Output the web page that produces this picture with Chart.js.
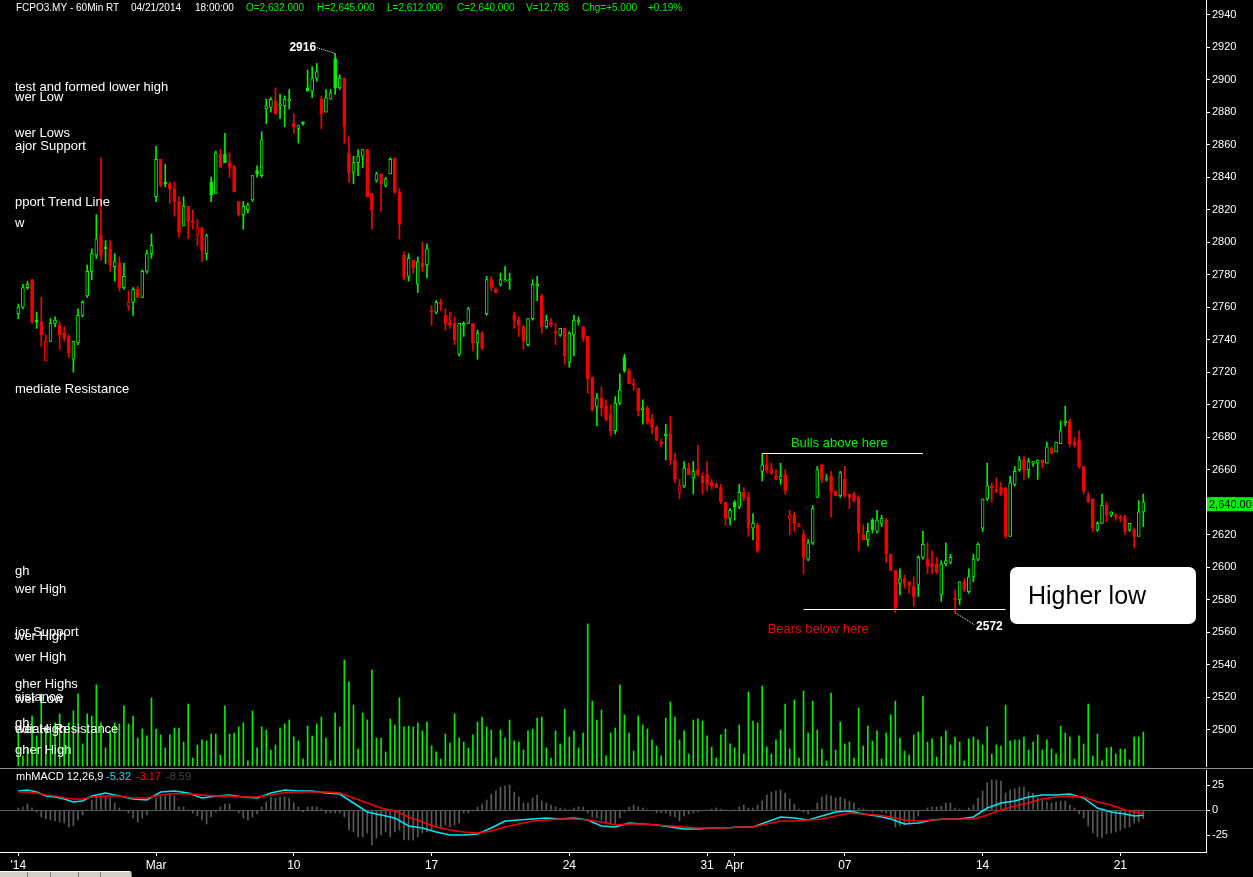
<!DOCTYPE html>
<html>
<head>
<meta charset="utf-8">
<title>FCPO3.MY - 60Min</title>
<script src="https://cdn.jsdelivr.net/npm/chart.js@4.4.1/dist/chart.umd.min.js"></script>
<style>
  html, body { margin: 0; padding: 0; background: #000; overflow: hidden; }
  #wrap { position: relative; width: 1253px; height: 877px; background: #000; }
  #priceChart { position: absolute; left: 0; top: 0; }
  #macdChart { position: absolute; left: 0; top: 770px; }
  #tabs { position: absolute; left: 0; top: 871px; width: 131px; height: 6px; background: #d4d0c8;
          border-top: 1px solid #fff; border-right: 1px solid #808080; border-radius: 0 3px 0 0; }
  #tabs span { position: absolute; top: 0; width: 1px; height: 6px; background: #808080; }
</style>
</head>
<body>
<div id="wrap">
  <canvas id="priceChart" width="1253" height="770"></canvas>
  <canvas id="macdChart" width="1253" height="107"></canvas>
  <div id="tabs"><span style="left:27px"></span><span style="left:50px"></span><span style="left:78px"></span><span style="left:100px"></span></div>
</div>
<script>
// hourly candles, 24 Feb - 21 Apr 2014
const opens = [
  2756,2760,2772,2777,2752,2751,2727,2739,2750,2749, 2744,2742,2728,2738,2755,2767,2782,2792,2804,2797,
  2796,2785,2787,2772,2761,2763,2771,2766,2782,2793, 2828,2851,2837,2836,2833,2825,2810,2822,2813,2805,
  2809,2793,2837,2830,2854,2854,2849,2847,2825,2817, 2820,2826,2844,2841,2882,2883,2887,2884,2884,2887,
  2873,2870,2874,2895,2893,2901,2888,2880,2888,2913, 2895,2901,2855,2843,2849,2853,2857,2830,2838,2842,
  2835,2842,2851,2831,2792,2779,2789,2774,2787,2786, 2758,2757,2763,2755,2751,2750,2731,2749,2750,2750,
  2738,2744,2756,2777,2771,2774,2776,2776,2755,2752, 2748,2737,2753,2773,2767,2748,2751,2745,2743,2747,
  2726,2743,2751,2748,2742,2717,2699,2704,2699,2694, 2684,2701,2729,2721,2713,2710,2697,2698,2691,2686,
  2677,2681,2682,2666,2646,2650,2661,2655,2660,2656, 2657,2652,2651,2649,2640,2630,2640,2637,2646,2643,
  2624,2626,2659,2663,2660,2656,2654,2657,2630,2632, 2625,2620,2605,2615,2643,2663,2654,2656,2647,2644,
  2654,2645,2645,2643,2620,2617,2629,2622,2627,2629, 2608,2598,2590,2593,2591,2588,2589,2606,2605,2602,
  2602,2583,2602,2603,2581,2580,2591,2585,2594,2605, 2624,2642,2650,2648,2649,2649,2619,2651,2660,2666,
  2660,2664,2664,2666,2664,2673,2671,2676,2689,2690, 2677,2678,2662,2644,2642,2623,2627,2638,2632,2632,
  2631,2631,2623,2623,2619,2634
];
const highs = [
  2762,2774,2776,2777,2757,2766,2743,2753,2754,2751, 2748,2743,2739,2759,2764,2786,2796,2817,2852,2801,
  2801,2793,2791,2787,2770,2772,2773,2783,2795,2805, 2859,2851,2848,2837,2837,2828,2828,2822,2820,2814,
  2809,2805,2840,2856,2857,2867,2855,2847,2825,2825, 2824,2841,2847,2868,2888,2889,2895,2891,2890,2894,
  2879,2872,2874,2906,2908,2910,2890,2894,2894,2916, 2903,2901,2865,2853,2857,2857,2857,2830,2843,2842,
  2840,2852,2852,2833,2794,2793,2789,2791,2800,2799, 2761,2764,2765,2759,2757,2754,2750,2751,2760,2750,
  2746,2745,2779,2779,2772,2781,2785,2781,2757,2754, 2749,2753,2777,2779,2768,2755,2753,2750,2747,2747,
  2745,2755,2754,2748,2742,2717,2707,2711,2703,2700, 2705,2719,2731,2722,2716,2710,2703,2699,2694,2687,
  2679,2688,2693,2670,2654,2665,2664,2665,2675,2658, 2665,2654,2652,2651,2640,2636,2641,2651,2649,2646,
  2633,2627,2670,2669,2664,2660,2664,2660,2635,2634, 2627,2623,2617,2638,2662,2663,2657,2659,2647,2659,
  2662,2645,2646,2644,2626,2627,2630,2635,2632,2630, 2608,2598,2599,2595,2591,2594,2607,2622,2615,2610,
  2606,2604,2615,2608,2586,2591,2593,2599,2608,2615, 2642,2664,2652,2655,2652,2649,2656,2662,2668,2668,
  2667,2665,2666,2666,2677,2674,2677,2690,2699,2691, 2680,2684,2662,2646,2642,2628,2645,2640,2634,2633,
  2632,2632,2627,2624,2641,2645
];
const lows = [
  2753,2759,2771,2750,2747,2736,2727,2739,2748,2734, 2739,2729,2720,2737,2754,2766,2777,2790,2789,2787,
  2782,2776,2770,2771,2758,2755,2766,2766,2781,2790, 2825,2834,2834,2824,2816,2803,2810,2802,2808,2798,
  2788,2789,2825,2830,2846,2849,2840,2831,2816,2808, 2818,2825,2840,2840,2873,2880,2879,2876,2871,2882,
  2867,2861,2872,2893,2889,2899,2870,2880,2888,2891, 2894,2861,2837,2836,2841,2846,2828,2808,2837,2819,
  2834,2842,2830,2802,2777,2776,2781,2769,2782,2778, 2749,2756,2758,2746,2747,2737,2730,2742,2750,2733,
  2728,2734,2755,2770,2769,2773,2776,2771,2747,2742, 2734,2736,2752,2764,2744,2747,2748,2737,2742,2725,
  2723,2730,2749,2739,2707,2696,2687,2693,2690,2681, 2682,2700,2720,2713,2709,2693,2688,2688,2682,2678,
  2674,2666,2663,2652,2642,2649,2657,2645,2656,2645, 2647,2648,2649,2639,2626,2626,2629,2636,2641,2619,
  2617,2609,2653,2658,2657,2654,2651,2645,2620,2622, 2625,2596,2604,2614,2643,2652,2653,2631,2644,2643,
  2643,2636,2640,2610,2617,2613,2621,2621,2625,2603, 2598,2572,2583,2587,2584,2576,2582,2605,2596,2596,
  2596,2579,2601,2602,2572,2577,2585,2584,2591,2604, 2622,2641,2640,2646,2644,2618,2619,2650,2659,2654,
  2655,2662,2654,2661,2664,2670,2671,2676,2687,2674, 2674,2661,2645,2640,2622,2622,2627,2628,2631,2629,
  2628,2620,2622,2612,2619,2625
];
const closes = [
  2760,2772,2774,2751,2751,2743,2739,2750,2752,2743, 2741,2732,2739,2755,2763,2782,2793,2802,2792,2796,
  2786,2788,2772,2779,2763,2771,2766,2782,2793,2798, 2851,2835,2836,2833,2825,2806,2822,2813,2812,2809,
  2795,2804,2829,2855,2846,2849,2846,2831,2817,2822, 2823,2841,2842,2863,2884,2888,2879,2885,2888,2888,
  2871,2872,2873,2893,2901,2905,2879,2889,2892,2895, 2901,2871,2843,2849,2853,2857,2828,2820,2842,2836,
  2839,2851,2831,2811,2778,2790,2784,2788,2785,2796, 2757,2763,2762,2750,2749,2740,2750,2750,2759,2738,
  2744,2735,2777,2772,2769,2777,2777,2777,2752,2749, 2739,2753,2774,2774,2748,2752,2749,2744,2747,2730,
  2744,2752,2752,2741,2716,2697,2704,2698,2691,2684, 2701,2709,2721,2713,2712,2696,2698,2689,2686,2678,
  2676,2682,2666,2654,2650,2661,2657,2659,2657,2652, 2651,2650,2649,2640,2630,2635,2637,2646,2643,2624,
  2627,2610,2663,2660,2658,2654,2656,2647,2632,2627, 2626,2606,2615,2636,2660,2654,2655,2646,2644,2658,
  2644,2643,2641,2621,2617,2622,2623,2629,2630,2608, 2598,2574,2593,2590,2589,2582,2606,2614,2601,2600,
  2597,2602,2604,2606,2580,2591,2586,2594,2605,2614, 2642,2650,2649,2646,2645,2619,2652,2659,2666,2660,
  2665,2665,2666,2664,2674,2670,2677,2684,2690,2676, 2675,2662,2647,2640,2624,2627,2638,2632,2634,2631,
  2630,2622,2627,2619,2634,2640
];
// volume, thousands of lots
const volumes = [
  12.4,3.8,6.8,18.8,11.3,27.1,14.3,13.2,16.2,19.6, 14.3,16.2,20.7,27.1,8.3,19.6,18.8,30.5,16.2,6.8,
  13.2,16.2,15.8,22.6,15.8,18.8,10.5,13.9,11.3,25.6, 13.9,11.7,6.8,11.7,14.3,14.3,9.0,23.3,3.0,7.9,
  9.8,9.4,12.0,12.0,4.1,22.6,12.0,12.4,14.7,16.2, 1.9,20.7,6.8,14.7,13.5,6.0,7.9,14.3,15.8,17.3,
  10.9,9.4,2.6,15.0,11.3,15.8,18.4,10.5,1.9,19.9, 14.7,39.9,31.6,22.9,6.4,19.9,17.3,36.1,10.5,10.5,
  5.3,17.7,15.4,25.6,14.7,15.0,14.7,16.2,
  13.2,16.5,7.5,5.3,2.6,12.0,8.6,19.6,10.5,9.0, 6.8,11.7,16.5,18.4,14.7,13.5,3.0,13.5,10.5,17.3,
  9.4,9.0,6.0,13.2,13.9,18.0,18.4,6.8,3.0,13.2, 8.3,21.4,10.9,13.2,6.8,12.4,53.4,24.4,17.3,21.1,
  3.8,12.4,14.3,30.5,19.2,12.4,5.6,18.8,15.4,13.9, 9.8,7.5,3.8,18.0,24.1,18.4,9.8,13.2,4.5,17.3,
  17.7,16.9,11.3,7.1,3.0,11.7,13.9,8.3,6.8,15.4, 4.5,27.8,16.9,16.2,30.1,7.1,4.5,9.8,13.5,23.3,
  6.4,24.8,3.0,28.2,12.4,24.4,13.5,
  6.4,1.9,27.4,6.0,16.5,8.3,9.0,3.0,21.8,7.5, 15.0,9.4,13.2,2.6,12.4,19.2,24.4,10.5,5.6,4.1,
  11.7,12.8,26.3,9.0,10.2,3.4,10.9,13.2,7.9,10.9, 9.0,1.9,10.2,10.9,9.8,7.9,14.7,4.5,7.9,7.5,
  22.9,9.4,9.8,9.8,10.9,6.0,9.0,11.7,6.0,9.8, 6.4,4.5,15.0,12.4,10.9,2.6,11.3,8.3,23.3,3.8,
  12.0,1.9,6.8,7.1,4.5,6.4,6.4,2.3,10.9,10.9, 12.8
];
// mhMACD 12,26,9 histogram, one per candle
const histVals = [
  2,3,6,2,-2,-7,-9,-10,-11,-12, -13,-17,-16,-10,-5,0,10,13,15,14,
  12,7,2,0,-3,-8,-12,-8,-5,-1, 12,14,14,16,14,3,3,0,-3,-6,
  -10,-14,-7,-2,3,6,6,-1,-3,-8, -10,-7,-4,3,8,13,12,13,13,12,
  7,3,-2,3,3,3,1,-3,-3,-3, -3,-7,-20,-22,-27,-27,-23,-35,-28,-25,
  -22,-27,-22,-20,-30,-30,-30,-27,
  -23,-22,-20,-18,-17,-15,-17,-15,-13,-3, -3,-1,3,6,10,16,19,23,24,25,
  18,13,7,7,12,15,9,7,5,3, 2,1,0,2,3,3,-3,-7,-8,-10,
  -13,-13,-14,-8,-2,3,5,3,2,0, -1,-3,-3,-3,-6,-7,-11,-6,-4,-3,
  -2,-1,0,1,2,1,0,-1,0,3, 5,2,2,5,9,15,18,19,20,17,
  11,6,1,-2,-4,0,7,
  13,15,14,12,13,11,9,7,2,1, -1,-2,-1,-2,-3,-8,-17,-16,-15,-13,
  -10,-6,0,2,3,3,4,7,7,2, 1,0,2,5,12,19,27,30,30,29,
  17,20,21,23,23,18,17,12,10,8, 7,8,9,9,5,2,-4,-8,-16,-23,
  -27,-28,-24,-23,-22,-20,-18,-17,-13,-12, -8.59
];
// MACD and signal lines, read at these candle positions
const macdIdx = [0,2,4,6,8,10,12,14,16,19,22,25,28,31,34,37,40,43,46,49,52,55,58,61,64,67,70,73,76,79,
  82,85,88,91,94,97,100,103,106,109,112,115,118,121,124,127,130,133,136,139,142,145,148,151,154,157,160,163,166,169,
  172,175,178,181,184,187,190,193,196,199,202,205,208,211,214,217,220,223,226,229,232,235,238,241,243,245];
const macdVals = [19,20,18,14,13,11,8,9,14,17,14,11,10,18,19,17,12,14,15,13,12,17,20,19,19,17,16,7,-2,-5,
  -8,-16,-18,-22,-25,-25,-24,-18,-11,-10,-9,-8,-9,-8,-10,-16,-17,-13,-14,-15,-17,-19,-19,-18,-18,-17,-17,-12,-7,-8,
  -10,-6,-2,-1,-4,-6,-9,-14,-13,-10,-9,-9,-7,2,7,9,13,15,15,16,12,2,-2,-4,-6,-5.32];
const signalVals = [18,18,17,15,14,12,11,11,13,14,14,12,12,15,16.5,16,15,14,14,13,13,15,17.5,18,18,18,17,12,7,2,
  -1,-7,-12,-17,-20,-22,-23,-21,-17,-14,-11,-10,-9,-9,-10,-12,-15,-14,-14,-15,-16,-17,-18,-18,-18,-17,-17,-14,-11,-11,
  -10,-9,-6,-3,-4,-5,-7,-10,-11,-10,-9,-9,-9,-5,0,4,7,11,13,14,13,8,5,0,-2,-3.17];

const priceTicks = [2940,2920,2900,2880,2860,2840,2820,2800,2780,2760,2740,2720,2700,2680,2660,2640,2620,2600,2580,2560,2540,2520,2500];
const macdTicks = [25, 0, -25];
const dateTickIdx = [0, 30, 60, 90, 120, 150, 156, 180, 210, 240];
const dateTickLabels = ["'14", 'Mar', '10', '17', '24', '31', 'Apr', '07', '14', '21'];

const GREEN = '#00ee00', RED = '#f20000', CYAN = '#00e5ee', GREY = '#5a5a5a';
const X_MIN = -3.985, X_MAX = 258.65;
const FONT = 'Arial, "Liberation Sans", sans-serif';

Chart.defaults.font.family = FONT;
Chart.defaults.color = '#fff';

const idx = closes.map((_, i) => i);
const candleColor = closes.map((c, i) => (i === 0 || c >= closes[i - 1]) ? GREEN : RED);
const bodyFill = closes.map((c, i) => c < opens[i] ? candleColor[i] : '#000');

function noPad(s){ s.paddingTop = 0; s.paddingBottom = 0; s.paddingLeft = 0; s.paddingRight = 0; }

const leftNotes = [
  ['test and formed lower high', 87], ['wer Low', 97], ['wer Lows', 133], ['ajor Support', 146],
  ['pport Trend Line', 202], ['w', 223], ['mediate Resistance', 389], ['gh', 571], ['wer High', 589],
  ['jor Support', 632], ['wer High', 636], ['wer High', 657], ['gher Highs', 684], ['sistance', 697],
  ['wer Low', 699], ['gh', 723], ['wer High', 729], ['ediate Resistance', 729], ['gher High', 750]
];

const priceNotes = {
  id: 'priceNotes',
  afterDraw(chart){
    const {ctx, scales: {x, y}} = chart;
    ctx.save();
    ctx.textBaseline = 'middle';

    // header line
    ctx.font = '10px ' + FONT;
    ctx.fillStyle = '#fff';
    ctx.fillText('FCPO3.MY - 60Min RT', 16, 8);
    ctx.fillText('04/21/2014', 131, 8);
    ctx.fillText('18:00:00', 195, 8);
    ctx.fillStyle = GREEN;
    [['O=2,632.000', 246], ['H=2,645.000', 317], ['L=2,612.000', 387], ['C=2,640.000', 457],
     ['V=12,783', 526], ['Chg=+5.000', 582], ['+0.19%', 648]].forEach(([t, px]) => ctx.fillText(t, px, 8));

    // cut-off notes on the left edge
    ctx.font = '13px ' + FONT;
    ctx.fillStyle = '#fff';
    leftNotes.forEach(([t, py]) => ctx.fillText(t, 15, py));

    // peak label
    ctx.font = 'bold 12px ' + FONT;
    const pkX = x.getPixelForValue(69), pkY = y.getPixelForValue(2916);
    ctx.textAlign = 'right';
    ctx.fillText('2916', pkX - 19, pkY - 6);
    ctx.strokeStyle = '#fff';
    ctx.lineWidth = 1;
    ctx.setLineDash([1, 1]);
    ctx.beginPath(); ctx.moveTo(pkX - 18, pkY - 6); ctx.lineTo(pkX - 2, pkY - 1); ctx.lineTo(pkX, pkY); ctx.stroke();

    // low label
    const lwX = x.getPixelForValue(204), lwY = y.getPixelForValue(2572);
    ctx.beginPath(); ctx.moveTo(lwX, lwY); ctx.lineTo(lwX + 18, lwY + 11); ctx.lineTo(lwX + 20, lwY + 13); ctx.stroke();
    ctx.setLineDash([]);
    ctx.textAlign = 'left';
    ctx.fillText('2572', lwX + 21, lwY + 14);

    // bulls / bears levels
    ctx.strokeStyle = '#fff';
    const bullY = Math.round(y.getPixelForValue(2670)) + 0.5;
    ctx.beginPath(); ctx.moveTo(x.getPixelForValue(162), bullY); ctx.lineTo(x.getPixelForValue(197), bullY); ctx.stroke();
    const bearY = Math.round(y.getPixelForValue(2574)) + 0.5;
    ctx.beginPath(); ctx.moveTo(x.getPixelForValue(171), bearY); ctx.lineTo(x.getPixelForValue(215), bearY); ctx.stroke();
    ctx.font = '13px ' + FONT;
    ctx.textAlign = 'center';
    ctx.fillStyle = GREEN;
    ctx.fillText('Bulls above here', x.getPixelForValue(178.8), bullY - 10);
    ctx.fillStyle = RED;
    ctx.fillText('Bears below here', x.getPixelForValue(174.2), bearY + 20);

    // callout box
    ctx.fillStyle = '#fff';
    ctx.beginPath();
    if (ctx.roundRect) ctx.roundRect(1010, 567, 186, 57, 7); else ctx.rect(1010, 567, 186, 57);
    ctx.fill();
    ctx.fillStyle = '#000';
    ctx.textAlign = 'left';
    ctx.font = '25px ' + FONT;
    ctx.fillText('Higher low', 1028, 597);

    // last price marker
    const lpY = y.getPixelForValue(closes[closes.length - 1]) + 2;
    ctx.fillStyle = GREEN;
    ctx.fillRect(1207, lpY - 7, 46, 14);
    ctx.fillStyle = '#000';
    ctx.font = '11px ' + FONT;
    ctx.fillText('2,640.00', 1209, lpY + 1);

    // pane separator
    ctx.fillStyle = '#8c8c8c';
    ctx.fillRect(0, 768, chart.width, 1);
    ctx.restore();
  }
};

new Chart(document.getElementById('priceChart'), {
  type: 'bar',
  data: {
    datasets: [
      {
        label: 'Body',
        data: idx.map(i => ({x: i, y: [opens[i], closes[i]]})),
        backgroundColor: bodyFill,
        borderColor: candleColor,
        borderWidth: 1,
        borderSkipped: false,
        barThickness: 3,
        minBarLength: 1,
        grouped: false,
        order: 1,
        yAxisID: 'y'
      },
      {
        label: 'Wick',
        data: idx.map(i => ({x: i, y: [lows[i], highs[i]]})),
        backgroundColor: candleColor,
        barThickness: 1,
        grouped: false,
        order: 2,
        yAxisID: 'y'
      },
      {
        label: 'Volume',
        data: idx.map(i => ({x: i, y: volumes[i]})),
        backgroundColor: GREEN,
        barThickness: 1,
        grouped: false,
        order: 3,
        yAxisID: 'yVol'
      }
    ]
  },
  options: {
    responsive: false,
    animation: false,
    layout: { padding: { top: 0, left: 0, right: 0, bottom: 4 } },
    plugins: { legend: { display: false }, tooltip: { enabled: false } },
    scales: {
      x: { type: 'linear', min: X_MIN, max: X_MAX, offset: false, display: false, grid: { offset: false } },
      y: {
        position: 'right',
        min: 2477.66, max: 2949.05,
        afterBuildTicks: s => { s.ticks = priceTicks.map(v => ({value: v})); },
        afterFit: s => { s.width = 47; noPad(s); },
        grid: { drawOnChartArea: false, tickLength: 4, tickColor: '#fff', color: '#fff' },
        border: { color: '#fff', width: 1 },
        ticks: { color: '#fff', font: { size: 11 }, padding: 2, autoSkip: false, callback: v => String(v) }
      },
      yVol: { display: false, min: 0, max: 288 }
    }
  },
  plugins: [priceNotes]
});

const macdNotes = {
  id: 'macdNotes',
  afterDraw(chart){
    const {ctx} = chart;
    ctx.save();
    ctx.textBaseline = 'middle';
    ctx.font = '11px ' + FONT;
    ctx.fillStyle = '#fff';
    ctx.fillText('mhMACD 12,26,9', 16, 7);
    ctx.fillStyle = CYAN;
    ctx.fillText(macdVals[macdVals.length - 1].toFixed(2), 106, 7);
    ctx.fillStyle = RED;
    ctx.fillText(signalVals[signalVals.length - 1].toFixed(2), 136, 7);
    ctx.fillStyle = '#444';
    ctx.fillText(histVals[histVals.length - 1].toFixed(2), 166, 7);
    ctx.restore();
  }
};

new Chart(document.getElementById('macdChart'), {
  type: 'bar',
  data: {
    datasets: [
      {
        type: 'line',
        label: 'Signal',
        data: macdIdx.map((v, k) => ({x: v, y: signalVals[k]})),
        borderColor: RED,
        borderWidth: 1.5,
        pointRadius: 0,
        tension: 0,
        order: 0
      },
      {
        type: 'line',
        label: 'MACD',
        data: macdIdx.map((v, k) => ({x: v, y: macdVals[k]})),
        borderColor: CYAN,
        borderWidth: 1.5,
        pointRadius: 0,
        tension: 0,
        order: 1
      },
      {
        label: 'Histogram',
        data: idx.map(i => ({x: i, y: histVals[i]})),
        backgroundColor: GREY,
        barThickness: 1,
        grouped: false,
        order: 2
      }
    ]
  },
  options: {
    responsive: false,
    animation: false,
    layout: { padding: 0 },
    plugins: { legend: { display: false }, tooltip: { enabled: false } },
    scales: {
      x: {
        type: 'linear', min: X_MIN, max: X_MAX, offset: false, position: 'bottom',
        afterBuildTicks: s => { s.ticks = dateTickIdx.map(v => ({value: v})); },
        afterFit: s => { s.height = 25; noPad(s); },
        grid: { offset: false, drawOnChartArea: false, tickLength: 4, tickColor: '#fff', color: '#fff' },
        border: { color: '#fff', width: 1 },
        ticks: { color: '#fff', font: { size: 12 }, padding: 2, maxRotation: 0, autoSkip: false,
                 callback: (v, i) => dateTickLabels[i] }
      },
      y: {
        position: 'right',
        min: -42, max: 40,
        afterBuildTicks: s => { s.ticks = macdTicks.map(v => ({value: v})); },
        afterFit: s => { s.width = 47; noPad(s); },
        grid: {
          drawOnChartArea: true, tickLength: 4, tickColor: '#fff',
          color: c => (c.tick && c.tick.value === 0) ? GREY : 'rgba(0,0,0,0)'
        },
        border: { color: '#fff', width: 1 },
        ticks: { color: '#fff', font: { size: 11 }, padding: 2, callback: v => String(v) }
      }
    }
  },
  plugins: [macdNotes]
});
</script>
</body>
</html>
